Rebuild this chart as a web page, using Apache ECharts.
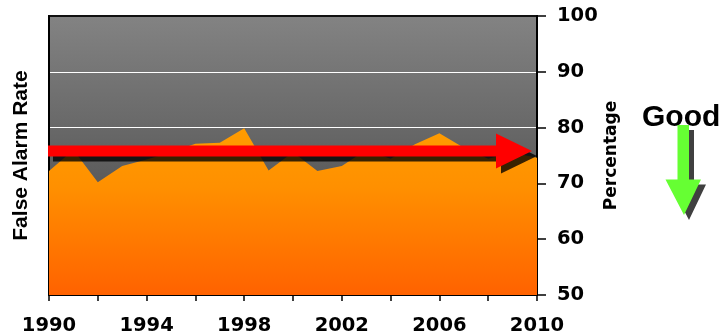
<!DOCTYPE html>
<html>
<head>
<meta charset="utf-8">
<script src="https://cdn.jsdelivr.net/npm/echarts@6/dist/echarts.min.js"></script>
<style>
html,body{margin:0;padding:0;background:#fff;}
#chart{width:726px;height:334px;}
</style>
</head>
<body>
<div id="chart"></div>
<script>
// ---- data ----
const years = [1990,1991,1992,1993,1994,1995,1996,1997,1998,1999,2000,2001,2002,2003,2004,2005,2006,2007,2008,2009,2010];
const falseAlarmRate = [72.2,76.0,70.2,73.1,74.3,75.6,77.1,77.3,79.9,72.3,75.6,72.2,73.1,76.0,74.4,77.0,79.0,76.4,74.4,75.5,74.6];
const xTickLabels = [1990,1994,1998,2002,2006,2010];
const yTickLabels = [50,60,70,80,90,100];
const trendArrow = [1990, 2010, 75.8]; // start year, end year, level
const goodLabel = 'Good';

const chart = echarts.init(document.getElementById('chart'), null, {renderer:'canvas'});

const seriesData = years.map((y,i)=>[y, falseAlarmRate[i]]);

const labelFont = {color:'#000', fontWeight:'bold', fontFamily:'"DejaVu Sans", sans-serif', fontSize:19.5};

const option = {
  animation:false,
  backgroundColor:'#fff',
  grid:{
    left:49, right:189, top:16, bottom:39,
    containLabel:false, outerBoundsMode:'none',
    show:true,
    borderColor:'#111', borderWidth:2,
    backgroundColor:new echarts.graphic.LinearGradient(0,0,0,1,[
      {offset:0,color:'#838383'},{offset:1,color:'#404040'}
    ])
  },
  xAxis:{
    type:'value', min:years[0], max:years[years.length-1], interval:2,
    axisLine:{show:true, lineStyle:{color:'#000', width:2}},
    axisTick:{show:true, length:6, lineStyle:{color:'#000', width:1.5}},
    splitLine:{show:false},
    axisLabel:Object.assign({margin:21, showMinLabel:true, showMaxLabel:true,
      formatter:v => xTickLabels.indexOf(v) >= 0 ? String(v) : ''}, labelFont)
  },
  yAxis:[{
    type:'value', position:'right', min:yTickLabels[0], max:yTickLabels[yTickLabels.length-1], interval:10,
    axisLine:{show:true, lineStyle:{color:'#000', width:2}},
    axisTick:{show:true, inside:false, length:9, lineStyle:{color:'#000', width:1.5}},
    splitLine:{show:true, showMinLine:false, showMaxLine:false, lineStyle:{color:'#fff', width:1.2}},
    axisLabel:Object.assign({margin:20}, labelFont),
    name:'Percentage', nameLocation:'middle', nameRotate:90, nameGap:66, nameMoveOverlap:false,
    nameTextStyle:{color:'#000', fontWeight:'bold', fontFamily:'"DejaVu Sans", sans-serif', fontSize:17}
  },{
    type:'value', position:'left', min:yTickLabels[0], max:yTickLabels[yTickLabels.length-1], interval:10,
    axisLine:{show:true, lineStyle:{color:'#000', width:2}},
    axisTick:{show:false}, axisLabel:{show:false}, splitLine:{show:false},
    name:'False Alarm Rate', nameLocation:'middle', nameRotate:90, nameGap:17, nameMoveOverlap:false,
    nameTextStyle:{color:'#000', fontWeight:'bold', fontFamily:'"Liberation Sans", Arial, sans-serif', fontSize:21}
  }],
  series:[{
    type:'line', yAxisIndex:0, data:seriesData, symbol:'none', z:2,
    lineStyle:{width:0},
    areaStyle:{origin:'start', opacity:1,
      color:new echarts.graphic.LinearGradient(0,0,0,1,[
        {offset:0,color:'#ff9c00'},{offset:0.35,color:'#ff9000'},{offset:1,color:'#ff6200'}
      ])}
  },{
    type:'custom', yAxisIndex:0, z:4, clip:false,
    data:[trendArrow],
    renderItem:function(params, api){
      const p0 = api.coord([api.value(0), api.value(2)]);
      const p1 = api.coord([api.value(1), api.value(2)]);
      const sx = p0[0]-1, tip = p1[0]-5, cy = p0[1];
      const sh = 5.5, hh = 17.5, hl = 36;
      const pts = [[sx,cy-sh],[tip-hl,cy-sh],[tip-hl,cy-hh],[tip,cy],[tip-hl,cy+hh],[tip-hl,cy+sh],[sx,cy+sh]];
      const shadow = pts.map(p=>[p[0]+5,p[1]+5]);
      return {type:'group', children:[
        {type:'polygon', shape:{points:shadow}, style:{fill:'rgba(0,0,0,0.78)'}},
        {type:'polygon', shape:{points:pts}, style:{fill:'#ff0000'}}
      ]};
    }
  }],
  graphic:[
    {type:'text', left:642, top:103, z:10,
      style:{text:goodLabel, fill:'#000', font:'bold 30px "Liberation Sans", Arial, sans-serif'}},
    {type:'polygon', z:11, shape:{points:[[682.5,130],[694,130],[694,184.5],[706,184.5],[689,220],[670.5,184.5],[682.5,184.5]]},
      style:{fill:'#404040'}},
    {type:'polygon', z:12, shape:{points:[[677.5,125],[689,125],[689,179.5],[701,179.5],[684,215],[665.5,179.5],[677.5,179.5]]},
      style:{fill:'#66ff33'}}
  ]
};
chart.setOption(option);
</script>
</body>
</html>
